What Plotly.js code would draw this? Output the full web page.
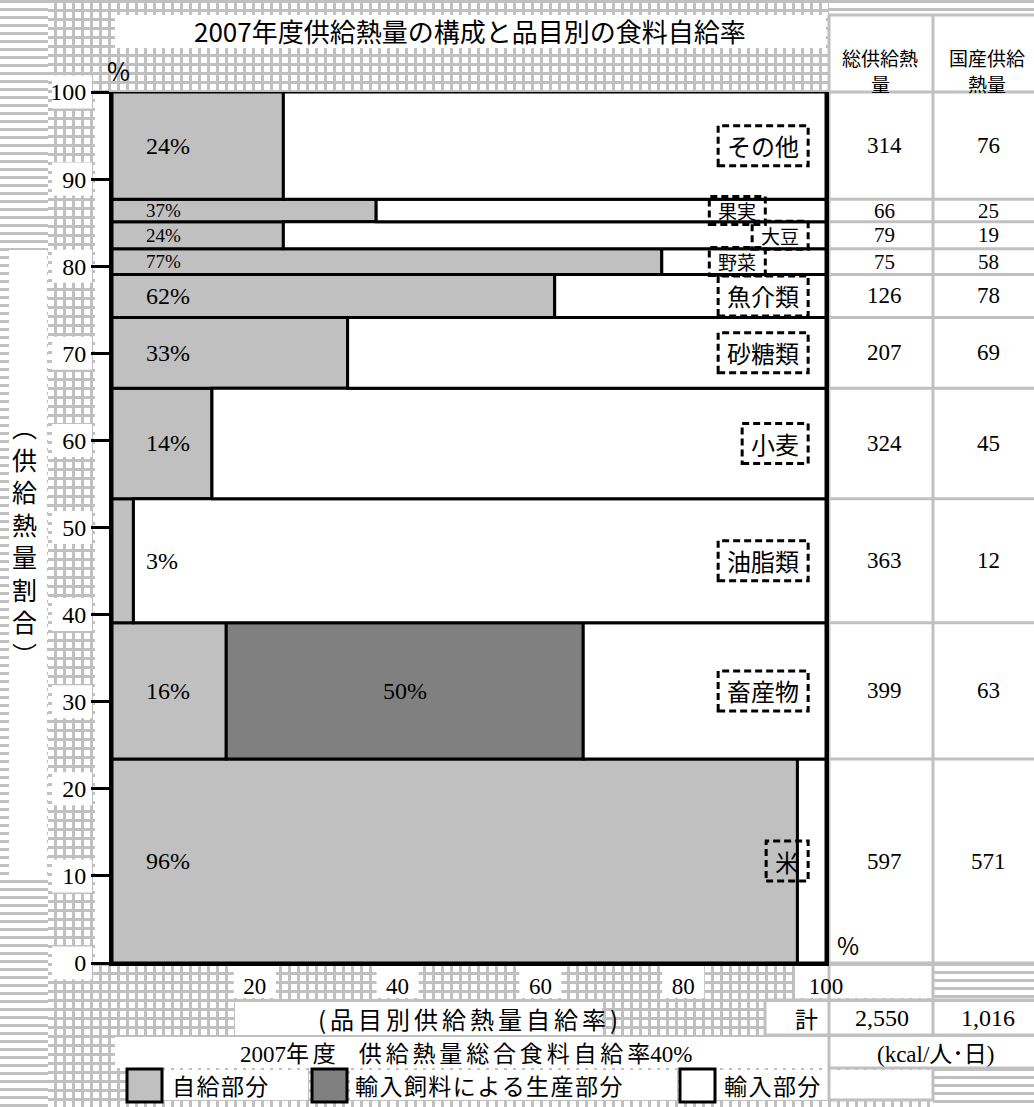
<!DOCTYPE html>
<html><head><meta charset="utf-8">
<script src="https://cdn.plot.ly/plotly-3.0.1.min.js"></script>
<style>
html,body{margin:0;padding:0;background:#fff;}
#wrap{position:relative;width:1034px;height:1107px;overflow:hidden;}
.grid{position:absolute;background-color:#fff;background-image:linear-gradient(to right,#c0c0c0 3px,transparent 3px),linear-gradient(to bottom,#c0c0c0 3px,transparent 3px);background-size:9px 9px;}
.hl{position:absolute;background-color:#fff;background-image:linear-gradient(to bottom,#c0c0c0 3px,transparent 3px);background-size:100% 8px;}
#chart{position:absolute;left:0;top:0;width:1034px;height:1107px;}
</style></head>
<body>
<div id="wrap"><div id="bg"></div><div id="chart"></div></div>
<script>
// ---------------- data ----------------
const categories = ['米','畜産物','油脂類','小麦','砂糖類','魚介類','野菜','大豆','果実','その他'];
const totalSupply = [597,399,363,324,207,126,75,79,66,314];      // 総供給熱量 (kcal/人・日)
const domesticSupply = [571,63,12,45,69,78,58,19,25,76];          // 国産供給熱量
const selfRate = [96,16,3,14,33,62,77,24,37,24];                  // 自給部分 (%)
const feedRate = [0,50,0,0,0,0,0,0,0,0];                          // 輸入飼料による生産部分 (%)
const legendNames = ['自給部分','輸入飼料による生産部分','輸入部分'];
const xTicks = [20,40,60,80,100];
const yTicks = [0,10,20,30,40,50,60,70,80,90,100];
const totalLabel = '2,550';
const domesticLabel = '1,016';
const overallRate = 40;
const titleText = '2007年度供給熱量の構成と品目別の食料自給率';
const xTitleText = '(品目別供給熱量自給率)';
const yTitleText = '︵供給熱量割合︶';
const col1Header = ['総供給熱', '量'];
const col2Header = ['国産供給', '熱量'];

// ---------------- style ----------------
const SANS = 'Noto Sans CJK JP, Noto Sans, sans-serif';
const SERIF = 'Liberation Serif, Times New Roman, serif';
const C_SELF = '#c0c0c0', C_FEED = '#808080', C_IMP = '#ffffff', C_GRID = '#c0c0c0';
const W = 1034, H = 1107, L = 112, R = 826, T = 92, B = 963;
const px = x => (x - L) / (R - L);
const py = y => (B - y) / (B - T);
const sp = (s, ch) => Array.from(s).join(ch);
const serifSpan = s => '<span style="font-family:Liberation Serif">' + s + '</span>';

// ---------------- background patterns (decoration) ----------------
const bg = document.getElementById('bg');
function patch(cls, x0, y0, x1, y1) {
  const d = document.createElement('div');
  d.className = cls;
  d.style.left = x0 + 'px'; d.style.top = y0 + 'px';
  d.style.width = (x1 - x0) + 'px'; d.style.height = (y1 - y0) + 'px';
  bg.appendChild(d);
}
patch('grid', 0, 0, W, H);
patch('hl', 0, 0, 48, H);
patch('hl', 829, 0, W, 15);
patch('hl', 933, 963, W, 1000);
patch('hl', 933, 1068, W, H);

// ---------------- derived geometry from data ----------------
const sum = totalSupply.reduce((a, b) => a + b, 0);
const share = totalSupply.map(v => v / sum * 100);
const lower = [], upper = [], mid = [];
let acc = 0;
share.forEach((s, i) => { lower.push(acc); acc += s; upper.push(acc); mid.push((lower[i] + upper[i]) / 2); });
const small = share.map(s => s < 4);
const importRate = selfRate.map((s, i) => 100 - s - feedRate[i]);
const feedIdx = feedRate.map((v, i) => v > 0 ? i : -1).filter(i => i >= 0);
const edge = { color: '#000', width: 3 };

const traces = [
  { type: 'bar', orientation: 'h', name: legendNames[0], y: mid, x: selfRate, base: selfRate.map(() => 0),
    width: share, marker: { color: C_SELF, line: edge }, hoverinfo: 'skip' },
  { type: 'bar', orientation: 'h', name: legendNames[1], y: feedIdx.map(i => mid[i]), x: feedIdx.map(i => feedRate[i]),
    base: feedIdx.map(i => selfRate[i]), width: feedIdx.map(i => share[i]), marker: { color: C_FEED, line: edge }, hoverinfo: 'skip' },
  { type: 'bar', orientation: 'h', name: legendNames[2], y: mid, x: importRate, base: selfRate.map((s, i) => s + feedRate[i]),
    width: share, marker: { color: C_IMP, line: edge }, hoverinfo: 'skip' }
];

// ---------------- shapes ----------------
const shapes = [];
function wb(x0, y0, x1, y1) {
  shapes.push({ type: 'rect', xref: 'paper', yref: 'paper', x0: px(x0), x1: px(x1), y0: py(y1), y1: py(y0),
    fillcolor: '#fff', line: { width: 0 }, layer: 'below' });
}
function gl(x0, y0, x1, y1) {
  shapes.push({ type: 'line', xref: 'paper', yref: 'paper', x0: px(x0), x1: px(x1), y0: py(y0), y1: py(y1),
    line: { color: C_GRID, width: 3 }, layer: 'below' });
}
wb(9, 250, 47, 880);
wb(115, 15, 826, 48);
wb(829, 15, 1034, 963);
wb(95, 92, 112, 963);
wb(235, 1002, 602, 1035); wb(766, 1002, 829, 1035); wb(829, 1002, 1034, 1035);
wb(115, 1037, 1034, 1068);
wb(163, 1070, 308, 1100); wb(350, 1070, 677, 1100); wb(716, 1070, 933, 1100);
// boxes behind tick labels
yTicks.forEach(v => shapes.push({ type: 'rect', xref: 'paper', yref: 'paper', x0: px(52), x1: px(92),
  ysizemode: 'pixel', yanchor: v / 100, y0: -16.5, y1: 16.5, fillcolor: '#fff', line: { width: 0 }, layer: 'below' }));
xTicks.forEach(v => shapes.push({ type: 'rect', xref: 'paper', yref: 'paper', xsizemode: 'pixel', xanchor: v / 100,
  x0: v === 100 ? -31 : -21, x1: v === 100 ? 107 : 21, y0: py(998), y1: py(966), fillcolor: '#fff', line: { width: 0 }, layer: 'below' }));
// table grid lines
gl(829, 15, 829, 1100);
gl(933, 15, 933, 1035); gl(933, 1068, 933, 1100);
gl(829, 15, 1034, 15);
[0].concat(upper).forEach(c => shapes.push({ type: 'line', xref: 'paper', yref: 'paper', x0: px(829), x1: px(1034),
  y0: c / 100, y1: c / 100, line: { color: C_GRID, width: 3 }, layer: 'below' }));
gl(765, 1000, 1034, 1000); gl(765, 1035, 1034, 1035); gl(829, 1068, 1034, 1068); gl(829, 1100, 933, 1100);
gl(765, 1000, 765, 1035);

// ---------------- annotations ----------------
const ann = [];
function txt(x, y, text, size, family, anchor, extra) {
  ann.push(Object.assign({ xref: 'paper', yref: 'paper', x: px(x), y: py(y), text, showarrow: false,
    xanchor: anchor || 'center', yanchor: 'middle', font: { family, size, color: '#000' } }, extra || {}));
}
// percentages inside bars
categories.forEach((c, i) => {
  ann.push({ xref: 'x', yref: 'y', x: 4.5, y: mid[i], text: selfRate[i] + '%', showarrow: false, xanchor: 'left',
    yanchor: 'middle', font: { family: SERIF, size: small[i] ? 19 : 24, color: '#000' } });
  if (feedRate[i] > 0) ann.push({ xref: 'x', yref: 'y', x: selfRate[i] + feedRate[i] / 2, y: mid[i], text: feedRate[i] + '%',
    showarrow: false, xanchor: 'center', yanchor: 'middle', font: { family: SERIF, size: 24, color: '#000' } });
});
// category labels with dashed boxes
const labelRight = { '果実': 91.5, '野菜': 91.5 };
categories.forEach((c, i) => {
  const fs = small[i] ? 19 : 24, n = Array.from(c).length;
  const w = n * fs + 18, h = small[i] ? 28 : 40;
  const xr = labelRight[c] || 97.5;
  shapes.push({ type: 'rect', xref: 'x', yref: 'y', xsizemode: 'pixel', xanchor: xr, x0: -w, x1: 0,
    ysizemode: 'pixel', yanchor: mid[i], y0: -h / 2, y1: h / 2, fillcolor: 'rgba(0,0,0,0)',
    line: { color: '#000', width: 3, dash: '7px,4px' }, layer: 'above' });
  ann.push({ xref: 'x', yref: 'y', x: xr, xshift: -w / 2, y: mid[i], text: c, showarrow: false, xanchor: 'center',
    yanchor: 'middle', font: { family: SANS, size: fs, color: '#000' } });
  // table values
  ann.push({ xref: 'paper', yref: 'y', x: px(884), y: mid[i], text: String(totalSupply[i]), showarrow: false,
    xanchor: 'center', yanchor: 'middle', font: { family: SERIF, size: small[i] ? 21 : 23, color: '#000' } });
  ann.push({ xref: 'paper', yref: 'y', x: px(988), y: mid[i], text: String(domesticSupply[i]), showarrow: false,
    xanchor: 'center', yanchor: 'middle', font: { family: SERIF, size: small[i] ? 21 : 23, color: '#000' } });
});
txt(470, 31, titleText, 26, SANS);
txt(880, 57, col1Header[0], 19, SANS);
txt(880, 83, col1Header[1], 19, SANS);
txt(987, 57, col2Header[0], 19, SANS);
txt(987, 83, col2Header[1], 19, SANS);
txt(118, 70, '%', 25, SANS);
txt(848, 944, '%', 24, SANS);
txt(24, 540, Array.from(yTitleText).join('<br>'), 25, SANS);
txt(468, 1018, sp(xTitleText, '\u2006'), 24, SANS);
txt(806, 1018, '計', 23, SANS);
txt(882, 1018, totalLabel, 24, SERIF);
txt(988, 1018, domesticLabel, 24, SERIF);
txt(466, 1052, serifSpan('2007') + sp('年度', '\u2006') + '\u2003' + sp('供給熱量総合食料自給率', '\u2006') + serifSpan(overallRate + '%'), 23, SANS);
txt(936, 1052, serifSpan('(kcal/') + '人･日' + serifSpan(')'), 23, SANS);
// legend
const legendSw = [[127, 162, C_SELF, 170], [312, 347, C_FEED, 353], [680, 715, C_IMP, 722]];
legendSw.forEach((s, k) => {
  shapes.push({ type: 'rect', xref: 'paper', yref: 'paper', x0: px(s[0]), x1: px(s[1]), y0: py(1102), y1: py(1069),
    fillcolor: s[2], line: { color: '#000', width: 3 }, layer: 'above' });
  txt(s[3], 1085, sp(legendNames[k], '\u200A'), 23, SANS, 'left');
});

const layout = {
  width: W, height: H,
  margin: { l: L, r: W - R, t: T, b: H - B, pad: 0 },
  paper_bgcolor: 'rgba(0,0,0,0)', plot_bgcolor: '#fff',
  showlegend: false, barmode: 'overlay', bargap: 0,
  xaxis: { range: [0, 100], tickvals: xTicks, ticks: '', showline: true, linewidth: 3, linecolor: '#000',
    showgrid: false, zeroline: false, tickfont: { family: SERIF, size: 23, color: '#000' }, fixedrange: true },
  yaxis: { range: [0, 100], tickvals: yTicks, ticks: 'outside', ticklen: 18, tickwidth: 3, tickcolor: '#000',
    showline: true, mirror: true, linewidth: 3, linecolor: '#000', showgrid: false, zeroline: false,
    tickfont: { family: SERIF, size: 24, color: '#000' }, fixedrange: true },
  shapes, annotations: ann
};
Plotly.newPlot('chart', traces, layout, { displayModeBar: false, staticPlot: true });
</script>
</body></html>
